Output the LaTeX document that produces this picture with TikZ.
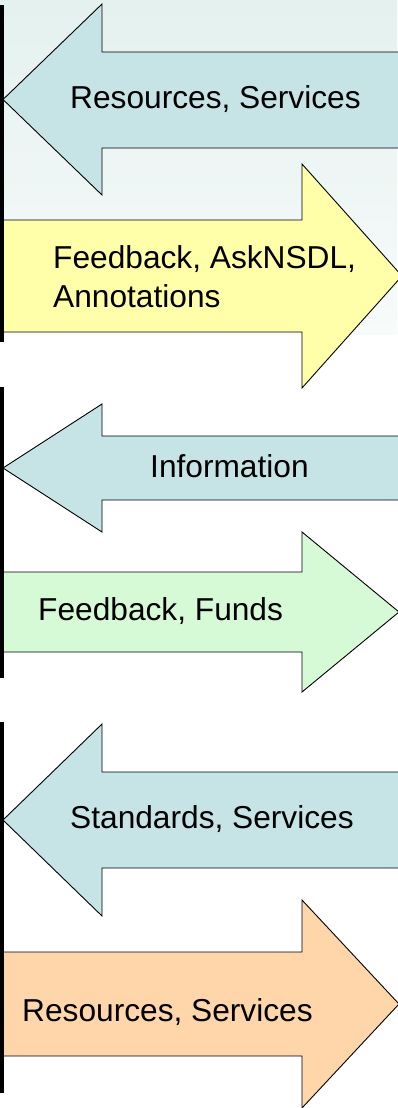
\documentclass[tikz,border=0pt]{standalone}
\usepackage{fontspec}
\setmainfont{Liberation Sans}
\definecolor{arrblue}{RGB}{198,228,230}
\definecolor{arryellow}{RGB}{255,255,170}
\definecolor{arrgreen}{RGB}{214,250,214}
\definecolor{arrorange}{RGB}{255,213,170}
\definecolor{bgtop}{RGB}{228,241,239}
\definecolor{bgbot}{RGB}{247,251,250}
\tikzset{
  arrowshape/.style={draw=black, line width=0.9bp, line join=miter},
  lbl/.style={inner sep=0pt, anchor=base west, font=\fontsize{31.8}{38.5}\selectfont, text=black},
  bar/.style={fill=black, draw=none}
}
\begin{document}
\begin{tikzpicture}[x=1bp,y=-1bp]
\useasboundingbox (0,0) rectangle (397,1108);
% background
\fill[white] (0,0) rectangle (397,1108);
\shade[top color=bgtop, bottom color=bgbot] (0,0) rectangle (397,334);
% arrows
\filldraw[arrowshape, fill=arrblue] (3,99.5) -- (102,4) -- (102,52) -- (410,52) -- (410,148) -- (102,148) -- (102,195) -- cycle;
\filldraw[arrowshape, fill=arryellow] (3,220) -- (302,220) -- (302,164) -- (402,276) -- (302,388) -- (302,332) -- (3,332) -- cycle;
\filldraw[arrowshape, fill=arrblue] (3,468) -- (102,404) -- (102,436) -- (410,436) -- (410,500) -- (102,500) -- (102,532) -- cycle;
\filldraw[arrowshape, fill=arrgreen] (3,572) -- (302,572) -- (302,532) -- (399,612) -- (302,692) -- (302,652) -- (3,652) -- cycle;
\filldraw[arrowshape, fill=arrblue] (3,820) -- (102,724) -- (102,772) -- (410,772) -- (410,868) -- (102,868) -- (102,916) -- cycle;
\filldraw[arrowshape, fill=arrorange] (3,952) -- (302,952) -- (302,900) -- (399,1004) -- (302,1108) -- (302,1056) -- (3,1056) -- cycle;
% bars
\fill[bar] (0,5) rectangle (4,342);
\fill[bar] (0,387) rectangle (4,678);
\fill[bar] (0,722) rectangle (4,1093);
% labels
\node[lbl] (t1) at (70,108) {Resources, Services};
\node[lbl, align=left] (t2) at (53,307) {Feedback, AskNSDL,\\Annotations};
\node[lbl] (t3) at (150,477) {Information};
\node[lbl] (t4) at (38,620) {Feedback, Funds};
\node[lbl] (t5) at (70,828) {Standards, Services};
\node[lbl] (t6) at (22,1021) {Resources, Services};
\end{tikzpicture}
\end{document}
